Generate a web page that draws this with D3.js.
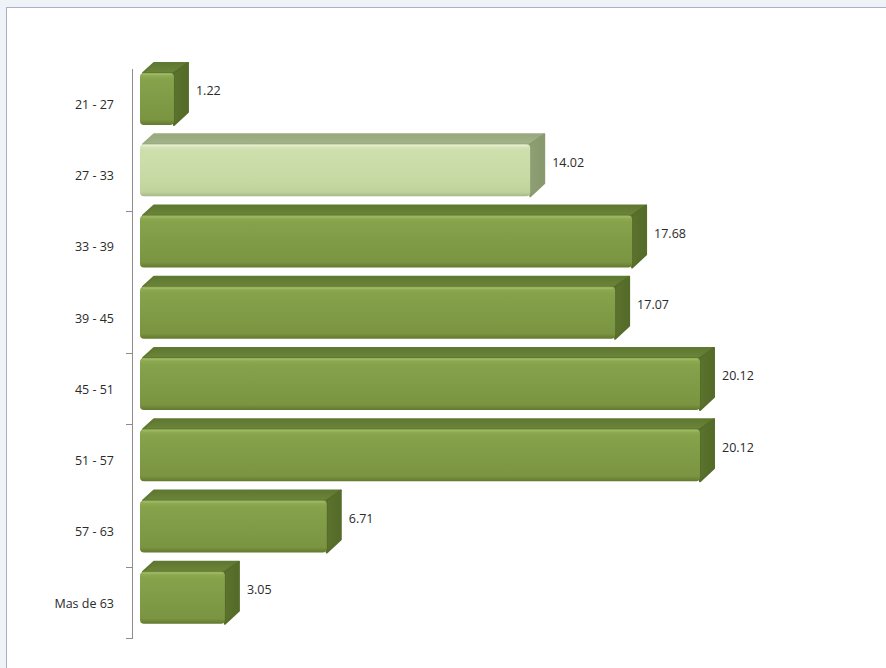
<!DOCTYPE html>
<html><head><meta charset="utf-8">
<script src="https://cdn.jsdelivr.net/npm/d3@7"></script>
<style>
html,body{margin:0;padding:0;background:#eef3f7;}
svg{display:block;}
</style></head>
<body>
<svg id="c" width="886" height="668"></svg>
<script>
const categories = ["21 - 27","27 - 33","33 - 39","39 - 45","45 - 51","51 - 57","57 - 63","Mas de 63"];
const values = [1.22, 14.02, 17.68, 17.07, 20.12, 20.12, 6.71, 3.05];
const highlighted = ["27 - 33"];
// boundaries (index of band edge) where a tick mark is visible
const tickEdges = [2, 4, 5, 7, 8];

const svg = d3.select("#c");
const defs = svg.append("defs");

// panel
svg.append("rect").attr("x",0).attr("y",0).attr("width",886).attr("height",668).attr("fill","#eef3f7");
svg.append("rect").attr("x",6.5).attr("y",7.5).attr("width",900).attr("height",700)
  .attr("fill","#ffffff").attr("stroke","#aeaecb").attr("stroke-width",1);

function grad(id, stops){
  const g = defs.append("linearGradient").attr("id",id).attr("x1",0).attr("y1",0).attr("x2",0).attr("y2",1);
  stops.forEach(s=>g.append("stop").attr("offset",s[0]).attr("stop-color",s[1]));
}
grad("gFront",[[0,"#94b058"],[0.12,"#86a24b"],[0.6,"#7f9a45"],[0.9,"#7a9441"],[1,"#63792f"]]);
grad("gFrontL",[[0,"#dbe8c0"],[0.12,"#cddfac"],[0.7,"#c7d9a3"],[0.92,"#c0d29b"],[1,"#a6b888"]]);
grad("gTop",[[0,"#5f7830"],[1,"#6c853a"]]);
grad("gTopL",[[0,"#98a87e"],[1,"#a4b48a"]]);
const gh = defs.append("linearGradient").attr("id","gSide").attr("x1",0).attr("y1",0).attr("x2",1).attr("y2",0);
gh.append("stop").attr("offset",0).attr("stop-color","#5b732d");
gh.append("stop").attr("offset",1).attr("stop-color","#546a29");
const ghl = defs.append("linearGradient").attr("id","gSideL").attr("x1",0).attr("y1",0).attr("x2",1).attr("y2",0);
ghl.append("stop").attr("offset",0).attr("stop-color","#8fa075");
ghl.append("stop").attr("offset",1).attr("stop-color","#86976c");

const x = d3.scaleLinear().domain([0, 20.12]).range([140, 700]);
const y = d3.scaleBand().domain(categories).range([68, 638]).paddingInner(0).paddingOuter(0);

const bw = y.bandwidth();
const frontOff = 5, frontH = 52, dx = 14, dy = 10;

// axis
const axisX = 132;
svg.append("line").attr("x1",axisX+0.5).attr("x2",axisX+0.5).attr("y1",y.range()[0]+1).attr("y2",y.range()[1])
  .attr("stroke","#8c8c8c").attr("stroke-width",1);
const bounds = categories.map(c=>y(c)).concat([y.range()[1]]);
svg.selectAll(".tick").data(tickEdges.map(i=>bounds[i])).enter().append("line")
  .attr("x1",axisX-6).attr("x2",axisX+1).attr("y1",d=>Math.round(d)+0.5).attr("y2",d=>Math.round(d)+0.5)
  .attr("stroke","#8c8c8c");

svg.selectAll(".cat").data(categories).enter().append("text")
  .attr("x",114).attr("y",d=>y(d)+bw/2+2)
  .attr("text-anchor","end").attr("dominant-baseline","middle")
  .attr("font-family","'Open Sans', sans-serif").attr("font-size",12.5).attr("fill","#2a2a2a")
  .text(d=>d);

const data = categories.map((c,i)=>({c, v: values[i], hl: highlighted.includes(c)}));
const bars = svg.selectAll(".bar").data(data).enter().append("g");

bars.each(function(d){
  const g = d3.select(this);
  const x0 = x(0), x1 = x(d.v);
  const y0 = y(d.c) + frontOff, h = frontH;
  // top face
  g.append("path")
    .attr("d", `M${x0+3},${y0} L${x0+dx},${y0-dy} L${x1+dx},${y0-dy} L${x1},${y0} Z`)
    .attr("fill", d.hl ? "url(#gTopL)" : "url(#gTop)")
    .attr("stroke", d.hl ? "#9aab80" : "#607932").attr("stroke-width",2).attr("stroke-linejoin","round");
  // side face
  g.append("path")
    .attr("d", `M${x1},${y0} L${x1+dx},${y0-dy} L${x1+dx},${y0+h-dy-3} L${x1},${y0+h} Z`)
    .attr("fill", d.hl ? "url(#gSideL)" : "url(#gSide)")
    .attr("stroke", d.hl ? "#8a9b70" : "#566d2a").attr("stroke-width",2).attr("stroke-linejoin","round");
  // front face
  g.append("rect").attr("x",x0).attr("y",y0).attr("width",x1-x0).attr("height",h)
    .attr("rx",4).attr("ry",4)
    .attr("fill", d.hl ? "url(#gFrontL)" : "url(#gFront)");
  // top highlight line
  g.append("line").attr("x1",x0+3).attr("x2",x1-2).attr("y1",y0+1.5).attr("y2",y0+1.5)
    .attr("stroke", d.hl ? "#e6f0d2" : "#a0bb65").attr("stroke-width",1.5).attr("opacity",0.8);
  // value label
  g.append("text")
    .attr("x", x1+dx+8).attr("y", y0 + h/2 - 7)
    .attr("dominant-baseline","middle")
    .attr("font-family","'Open Sans', sans-serif").attr("font-size",12.5).attr("fill","#2a2a2a")
    .text(d3.format(".2f")(d.v));
});
</script>
</body></html>
